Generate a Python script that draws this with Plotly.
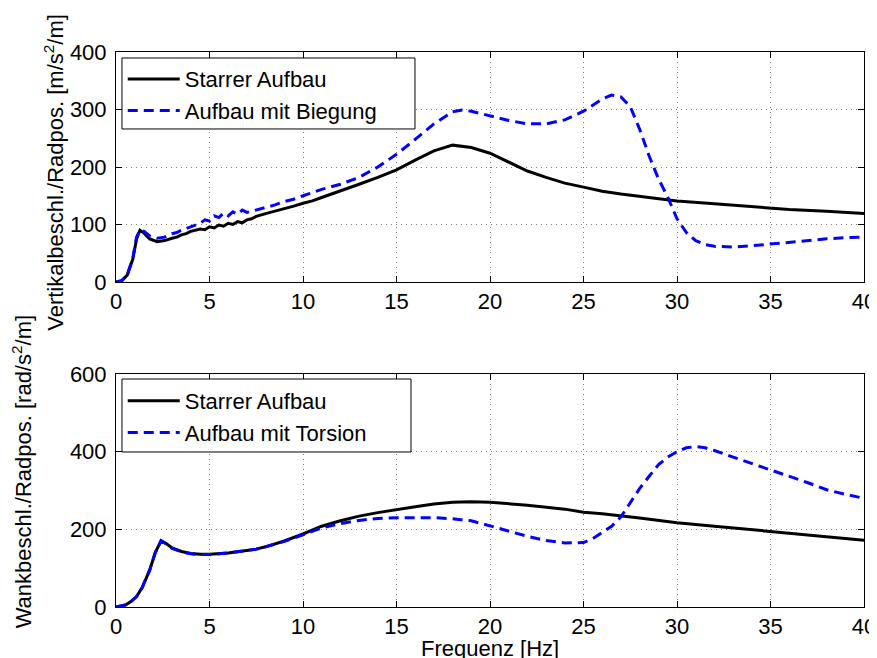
import plotly.graph_objects as go

# ---------------- data ----------------
# top panel: Starrer Aufbau (vertical)
f_top_rigid = [0, 0.3, 0.6, 0.9, 1.1, 1.28, 1.5, 1.8, 2.2, 2.6, 3.0, 3.25, 3.5, 3.75, 4.0, 4.25, 4.5, 4.75,
               5.0, 5.25, 5.5, 5.75, 6.0, 6.25, 6.5, 6.75, 7.0, 7.25, 7.5, 8.0, 8.5, 9.0, 9.5, 10, 10.5, 11,
               12, 13, 14, 15, 16, 17, 18, 19, 20, 21, 22, 23, 24, 25, 26, 27, 28, 29, 30, 32, 34, 35, 36,
               38, 40]
v_top_rigid = [0, 2, 12, 40, 75, 90, 85, 75, 70, 72, 76, 78, 82, 84, 88, 90, 92, 91,
               96, 94, 99, 97, 102, 100, 105, 103, 108, 110, 114, 119, 123, 128, 132, 137, 141, 147,
               158, 170, 182, 195, 212, 228, 238, 234, 224, 208, 193, 182, 172, 165, 158, 153, 149, 145, 141, 136, 131, 128, 126,
               123, 119]

# top panel: Aufbau mit Biegung
f_top_bend = [0, 0.3, 0.6, 0.9, 1.1, 1.28, 1.5, 1.8, 2.2, 2.6, 3.0, 3.25, 3.5, 3.75, 4.0, 4.25, 4.5, 4.75,
              5.0, 5.25, 5.5, 5.75, 6.0, 6.25, 6.5, 6.75, 7.0, 7.25, 7.5, 8.0, 8.5, 9.0, 9.5, 10, 10.5, 11,
              12, 13, 14, 15, 16, 17, 18, 18.5, 19, 20, 21, 22, 23, 24, 25, 26, 26.5, 27, 27.5, 28, 28.5,
              29, 29.5, 30, 30.5, 31, 31.5, 32, 33, 34, 35, 36, 37, 38, 39, 40]
v_top_bend = [0, 2, 12, 42, 78, 91, 88, 80, 76, 78, 84, 86, 90, 93, 96, 100, 102, 108,
              106, 115, 112, 120, 115, 122, 118, 125, 121, 123, 125, 130, 134, 140, 144, 150, 156, 161,
              170, 182, 200, 222, 248, 275, 296, 299, 297, 289, 281, 275, 275, 282, 297, 318, 325, 322, 305, 266, 220,
              180, 148, 110, 86, 72, 65, 62, 61, 63, 66, 70, 73, 75, 77, 78]

# bottom panel: Starrer Aufbau (roll)
f_bot_rigid = [0, 0.5, 0.8, 1.1, 1.4, 1.8, 2.1, 2.41, 2.7, 3.0, 3.5, 4.0, 4.5, 5, 6, 7, 7.5, 8, 9, 10, 11,
               12, 13, 14, 15, 16, 17, 18, 19, 20, 22, 24, 25, 26, 28, 30, 32, 34, 35, 36, 38, 40]
v_bot_rigid = [0, 5, 14, 27, 50, 95, 140, 171, 163, 152, 143, 138, 136, 136, 139, 145, 149, 155, 170, 188, 208,
               222, 234, 243, 251, 258, 265, 270, 271, 270, 262, 252, 244, 240, 229, 217, 208, 199, 194, 189, 181, 172]

# bottom panel: Aufbau mit Torsion
f_bot_tors = [0, 0.5, 0.8, 1.1, 1.4, 1.8, 2.1, 2.41, 2.7, 3.0, 3.5, 4.0, 4.5, 5, 6, 7, 7.5, 8, 9, 10, 11,
              12, 13, 14, 15, 16, 17, 18, 19, 20, 21, 22, 23, 24, 25, 25.5, 26, 26.5, 27, 27.5, 28, 28.5,
              29, 29.5, 30, 30.5, 31, 31.5, 32, 33, 34, 35, 36, 37, 38, 39, 40]
v_bot_tors = [0, 5, 14, 27, 50, 95, 140, 170, 162, 151, 142, 137, 135, 135, 139, 145, 149, 155, 169, 186, 204,
              215, 223, 228, 230, 230, 230, 227, 222, 209, 196, 182, 171, 165, 166, 176, 192, 208, 232, 270, 305, 336,
              366, 386, 400, 410, 413, 410, 403, 386, 370, 353, 337, 320, 302, 290, 280]

x_ticks = [0, 5, 10, 15, 20, 25, 30, 35, 40]
y_ticks_top = [0, 100, 200, 300, 400]
y_ticks_bot = [0, 200, 400, 600]

# ---------------- figure ----------------
FONT = "Arial, Liberation Sans, Helvetica, sans-serif"
FS = 22
BLUE = "#0000ff"

fig = go.Figure()
fig.add_trace(go.Scatter(x=f_top_rigid, y=v_top_rigid, mode="lines", name="Starrer Aufbau",
                         line=dict(color="black", width=3), xaxis="x", yaxis="y",
                         legend="legend", legendgroup="a1"))
fig.add_trace(go.Scatter(x=f_top_bend, y=v_top_bend, mode="lines", name="Aufbau mit Biegung",
                         line=dict(color=BLUE, width=3, dash="10px,6px"), xaxis="x", yaxis="y",
                         legend="legend", legendgroup="a2"))
fig.add_trace(go.Scatter(x=f_bot_rigid, y=v_bot_rigid, mode="lines", name="Starrer Aufbau",
                         line=dict(color="black", width=3), xaxis="x2", yaxis="y2",
                         legend="legend2", legendgroup="b1"))
fig.add_trace(go.Scatter(x=f_bot_tors, y=v_bot_tors, mode="lines", name="Aufbau mit Torsion",
                         line=dict(color=BLUE, width=3, dash="10px,6px"), xaxis="x2", yaxis="y2",
                         legend="legend2", legendgroup="b2"))

axis_common = dict(showline=True, linecolor="black", linewidth=1, mirror="ticks",
                   ticks="inside", ticklen=6, tickcolor="black", tickwidth=1,
                   showgrid=True, gridcolor="#7a7a7a", gridwidth=1, griddash="1px,4px",
                   zeroline=False, automargin=False,
                   tickfont=dict(family=FONT, size=FS, color="black"))

# legend frames are drawn as white boxes; the legends themselves are transparent on top
legend_common = dict(xanchor="left", yanchor="top", bgcolor="rgba(0,0,0,0)",
                     borderwidth=0, font=dict(family=FONT, size=FS),
                     itemwidth=52, traceorder="grouped", tracegroupgap=0)

legend_box = dict(type="rect", xref="paper", yref="paper", layer="above",
                  fillcolor="white", line=dict(color="black", width=1))

# the page body has an 8px default margin, so the figure is 8px smaller
# and its margins 8px tighter on the left/top to land where the reference plots are
fig.update_layout(
    width=869, height=650,
    margin=dict(l=108, r=13, t=44, b=51),
    paper_bgcolor="white", plot_bgcolor="white",
    font=dict(family=FONT, size=FS, color="black"),
    xaxis=dict(domain=[0, 1], anchor="y", range=[0, 40], tickvals=x_ticks, ticklabelstandoff=0, **axis_common),
    yaxis=dict(domain=[0.5856, 1], anchor="x", range=[0, 400], tickvals=y_ticks_top, ticklabelstandoff=4, **axis_common),
    xaxis2=dict(domain=[0, 1], anchor="y2", range=[0, 40], tickvals=x_ticks, ticklabelstandoff=0, **axis_common),
    yaxis2=dict(domain=[0, 0.4198], anchor="x2", range=[0, 600], tickvals=y_ticks_bot, ticklabelstandoff=4, **axis_common),
    legend=dict(x=0.009, y=0.989, **legend_common),
    legend2=dict(x=0.009, y=0.409, **legend_common),
    showlegend=True,
    shapes=[
        dict(x0=0.008, x1=0.3997, y0=0.8613, y1=0.9892, **legend_box),
        dict(x0=0.008, x1=0.3944, y0=0.2793, y1=0.4108, **legend_box),
    ],
    annotations=[
        dict(text="Vertikalbeschl./Radpos. [m/s<sup>2</sup>/m]", textangle=-90,
             xref="paper", yref="paper", x=-0.083, y=0.784, xanchor="center", yanchor="middle",
             showarrow=False, font=dict(family=FONT, size=FS)),
        dict(text="Wankbeschl./Radpos. [rad/s<sup>2</sup>/m]", textangle=-90,
             xref="paper", yref="paper", x=-0.126, y=0.244, xanchor="center", yanchor="middle",
             showarrow=False, font=dict(family=FONT, size=FS)),
        dict(text="Frequenz [Hz]", xref="paper", yref="paper", x=0.5, y=-0.075,
             xanchor="center", yanchor="middle", showarrow=False, font=dict(family=FONT, size=FS)),
    ],
)

fig.write_html("out.html")
